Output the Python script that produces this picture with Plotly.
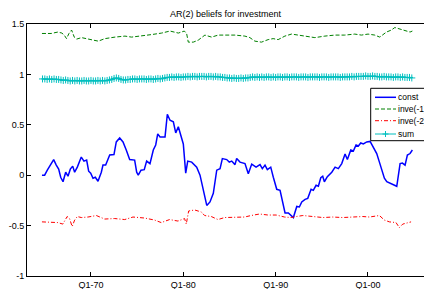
import plotly.graph_objects as go

# ---------------- data ----------------
const_dates = [1964.69, 1964.98, 1965.27, 1965.63, 1965.96, 1966.24, 1966.50, 1966.72, 1966.97, 1967.26,
               1967.51, 1967.76, 1968.02, 1968.23, 1968.52, 1968.95, 1969.24, 1969.53, 1969.75, 1969.97,
               1970.22, 1970.47, 1970.76, 1971.12, 1971.30, 1971.59, 1972.03, 1972.49, 1972.74, 1973.11,
               1973.47, 1973.82, 1974.19, 1974.73, 1974.95, 1975.12, 1975.42, 1975.77, 1976.03, 1976.39,
               1976.75, 1977.01, 1977.23, 1977.48, 1978.02, 1978.27, 1978.56, 1978.92, 1979.18, 1979.46,
               1979.83, 1980.00, 1980.26, 1980.48, 1980.91, 1981.45, 1981.81, 1982.17, 1982.54, 1982.89,
               1983.25, 1983.62, 1983.98, 1984.23, 1984.70, 1984.98, 1985.24, 1985.60, 1985.78, 1986.14,
               1986.68, 1987.04, 1987.41, 1987.88, 1988.31, 1988.56, 1988.85, 1989.10, 1989.47, 1989.75,
               1990.12, 1990.48, 1990.83, 1991.02, 1991.38, 1991.74, 1991.92, 1992.29, 1992.57, 1992.83,
               1993.19, 1993.48, 1993.84, 1994.08, 1994.38, 1994.63, 1994.89, 1995.10, 1995.28, 1995.60,
               1996.08, 1996.44, 1996.79, 1997.16, 1997.52, 1997.77, 1998.14, 1998.42, 1998.71, 1998.96,
               1999.22, 1999.50, 1999.87, 2000.23, 2000.59, 2000.95, 2001.24, 2001.50, 2001.78, 2002.04,
               2002.39, 2002.75, 2003.12, 2003.48, 2003.73, 2004.02, 2004.27, 2004.56, 2004.81]
const_values = [0.0, 0.0, 0.05, 0.10, 0.155, 0.10, 0.06, -0.02, -0.065, 0.03,
                -0.01, 0.06, 0.09, 0.03, 0.08, 0.18, 0.14, 0.15, 0.04, 0.02,
                -0.03, -0.02, -0.06, 0.03, 0.10, 0.10, 0.20, 0.205, 0.33, 0.37,
                0.33, 0.25, 0.155, 0.15, 0.03, 0.0, 0.05, 0.055, 0.14, 0.115,
                0.25, 0.30, 0.41, 0.38, 0.38, 0.605, 0.545, 0.53, 0.42, 0.48,
                0.35, 0.31, 0.02, 0.14, 0.13, 0.08, 0.0, -0.15, -0.30, -0.265,
                -0.18, 0.05, 0.065, 0.165, 0.155, 0.13, 0.14, 0.105, 0.165, 0.13,
                0.115, 0.015, 0.11, 0.08, 0.105, 0.065, 0.10, 0.055, 0.08, -0.02,
                -0.14, -0.15, -0.28, -0.375, -0.375, -0.40, -0.42, -0.31, -0.315, -0.265,
                -0.24, -0.23, -0.14, -0.15, -0.10, -0.11, -0.025, -0.01, -0.065, -0.015,
                0.03, 0.08, 0.065, 0.115, 0.21, 0.155, 0.25, 0.24, 0.30, 0.29,
                0.32, 0.31, 0.33, 0.335, 0.28, 0.215, 0.13, 0.05, -0.03, -0.065,
                -0.08, -0.09, -0.11, 0.115, 0.12, 0.10, 0.20, 0.215, 0.25]

inve1_dates = [1964.69, 1965.69, 1966.41, 1966.85, 1967.10, 1967.35, 1967.61, 1967.90, 1968.19, 1968.44,
               1968.98, 1969.70, 1970.25, 1970.79, 1971.51, 1972.60, 1973.68, 1974.40, 1975.48, 1976.56,
               1977.65, 1978.56, 1979.46, 1980.11, 1980.36, 1980.54, 1981.08, 1981.62, 1982.34, 1983.06,
               1983.78, 1984.50, 1985.59, 1986.67, 1987.21, 1987.75, 1988.47, 1989.19, 1989.73, 1990.27,
               1991.00, 1991.72, 1992.44, 1993.34, 1994.25, 1995.33, 1996.41, 1997.49, 1998.57, 1999.29,
               2000.01, 2000.74, 2001.28, 2002.00, 2002.54, 2002.91, 2003.45, 2003.99, 2004.56, 2004.81]
inve1_values = [1.406, 1.406, 1.42, 1.41, 1.39, 1.355, 1.405, 1.44, 1.37, 1.35,
                1.365, 1.355, 1.34, 1.33, 1.355, 1.37, 1.38, 1.37, 1.38, 1.395,
                1.41, 1.43, 1.41, 1.43, 1.405, 1.32, 1.32, 1.34, 1.39, 1.37,
                1.39, 1.39, 1.39, 1.38, 1.365, 1.33, 1.32, 1.345, 1.355, 1.345,
                1.38, 1.40, 1.39, 1.38, 1.365, 1.38, 1.39, 1.39, 1.40, 1.39,
                1.40, 1.39, 1.37, 1.42, 1.44, 1.465, 1.45, 1.44, 1.42, 1.43]

inve2_dates = [1964.69, 1965.69, 1966.41, 1966.95, 1967.42, 1967.68, 1967.96, 1968.23, 1968.52, 1968.95,
               1969.68, 1970.58, 1971.48, 1972.57, 1973.65, 1974.55, 1975.81, 1976.89, 1977.61, 1978.52,
               1979.42, 1980.14, 1980.32, 1980.58, 1981.23, 1981.95, 1982.31, 1983.03, 1983.75, 1984.47,
               1985.55, 1986.63, 1987.35, 1988.26, 1989.16, 1990.06, 1990.96, 1991.68, 1992.22, 1992.95,
               1994.03, 1995.11, 1996.19, 1997.27, 1998.35, 1999.44, 2000.16, 2001.24, 2001.78, 2002.32,
               2003.04, 2003.40, 2003.77, 2004.31, 2004.67]
inve2_values = [-0.463, -0.463, -0.47, -0.485, -0.41, -0.43, -0.51, -0.445, -0.41, -0.42,
                -0.415, -0.40, -0.435, -0.43, -0.44, -0.415, -0.425, -0.445, -0.47, -0.44,
                -0.455, -0.43, -0.485, -0.355, -0.345, -0.365, -0.40, -0.41, -0.44, -0.42,
                -0.42, -0.415, -0.40, -0.385, -0.395, -0.395, -0.415, -0.42, -0.41, -0.40,
                -0.41, -0.42, -0.415, -0.42, -0.415, -0.41, -0.415, -0.40, -0.445, -0.463,
                -0.47, -0.52, -0.485, -0.47, -0.463]

sum_start = 1964.75  # quarterly from 1964Q4
sum_values = [0.955, 0.955, 0.95, 0.955, 0.95, 0.955, 0.95, 0.95,
              0.945, 0.94, 0.945, 0.94, 0.935, 0.94, 0.935, 0.94, 0.935, 0.935, 0.94, 0.935,
              0.935, 0.94, 0.935, 0.935, 0.94, 0.935, 0.94, 0.935, 0.94, 0.945, 0.95, 0.96,
              0.965, 0.96, 0.95, 0.945,
              0.945, 0.95, 0.95, 0.955, 0.955, 0.95, 0.955, 0.955, 0.955, 0.95, 0.955, 0.955,
              0.95, 0.955, 0.96, 0.955,
              0.96, 0.965, 0.97, 0.97, 0.975, 0.97, 0.975, 0.975, 0.97, 0.975,
              0.975, 0.98, 0.975, 0.98, 0.98, 0.975, 0.98, 0.98, 0.98, 0.975, 0.98, 0.98,
              0.975, 0.98, 0.975, 0.975,
              0.97, 0.97, 0.965, 0.965, 0.96, 0.965, 0.96, 0.96, 0.965, 0.96, 0.965, 0.965,
              0.97, 0.975, 0.97, 0.975, 0.97, 0.975, 0.97, 0.975, 0.975, 0.97, 0.975, 0.97,
              0.975, 0.975, 0.97, 0.975, 0.975, 0.97, 0.975, 0.975, 0.975, 0.97, 0.975, 0.975,
              0.975, 0.97, 0.975, 0.975, 0.975, 0.975, 0.97, 0.975, 0.975, 0.975, 0.97, 0.975,
              0.975, 0.975, 0.975, 0.97, 0.975, 0.975, 0.975, 0.975, 0.98, 0.975, 0.98, 0.98,
              0.98, 0.98, 0.985, 0.98, 0.98, 0.985, 0.98, 0.98,
              0.975, 0.975, 0.98, 0.975, 0.975, 0.975, 0.97, 0.975, 0.975, 0.97, 0.975, 0.97,
              0.97, 0.97, 0.965]
sum_dates = [sum_start + 0.25 * i for i in range(len(sum_values))]

series_names = ["const", "inve(-1)", "inve(-2)", "sum"]
x_tick_vals = [1970, 1980, 1990, 2000]
x_tick_text = ["Q1-70", "Q1-80", "Q1-90", "Q1-00"]
y_tick_vals = [-1, -0.5, 0, 0.5, 1, 1.5]
y_tick_text = ["-1", "-0.5", "0", "0.5", "1", "1.5"]

# ---------------- styling ----------------
W, H = 424, 289
L, R, T, B = 27, 424, 24, 276
FONT = "Liberation Sans, Arial, sans-serif"
colors = ["#0000ff", "#008000", "#ff0000", "#00bfbf"]
dashes = ["solid", "4px,2px", "4px,2px,1px,2px", "solid"]
widths = [1.5, 1, 1, 1]

fig = go.Figure()
fig.add_trace(go.Scatter(x=const_dates, y=const_values, mode="lines", name=series_names[0],
                         line=dict(color=colors[0], width=widths[0])))
fig.add_trace(go.Scatter(x=inve1_dates, y=inve1_values, mode="lines", name=series_names[1],
                         line=dict(color=colors[1], width=widths[1], dash=dashes[1])))
fig.add_trace(go.Scatter(x=inve2_dates, y=inve2_values, mode="lines", name=series_names[2],
                         line=dict(color=colors[2], width=widths[2], dash=dashes[2])))
fig.add_trace(go.Scatter(x=sum_dates, y=sum_values, mode="lines+markers", name=series_names[3],
                         line=dict(color=colors[3], width=widths[3]),
                         marker=dict(symbol="cross-thin", size=5, line=dict(color=colors[3], width=1))))

x0_year = 1963.07
x1_year = 2006.07

def px(x):
    return (x - L) / (R - L)

def py(y):
    return (B - y) / (B - T)

# custom legend
shapes = [dict(type="rect", xref="paper", yref="paper", x0=px(370.7), x1=px(440), y0=py(140.7), y1=py(88.3),
               line=dict(color="black", width=1), fillcolor="white", layer="above")]
annots = []
rows = [97.3, 109.0, 120.7, 134.0]
for i, name in enumerate(series_names):
    yy = py(rows[i])
    shapes.append(dict(type="line", xref="paper", yref="paper", x0=px(375), x1=px(396), y0=yy, y1=yy,
                       line=dict(color=colors[i], width=widths[i], dash=dashes[i]), layer="above"))
    annots.append(dict(xref="paper", yref="paper", x=px(396.5), y=yy, text=name, showarrow=False,
                       xanchor="left", yanchor="middle", xshift=-1,
                       font=dict(size=8.5, color="black", family=FONT)))
# plus marker for sum sample
cx, cy = 385.5, rows[3]
shapes.append(dict(type="line", xref="paper", yref="paper", x0=px(cx - 3), x1=px(cx + 3), y0=py(cy), y1=py(cy),
                   line=dict(color=colors[3], width=1), layer="above"))
shapes.append(dict(type="line", xref="paper", yref="paper", x0=px(cx), x1=px(cx), y0=py(cy - 3), y1=py(cy + 3),
                   line=dict(color=colors[3], width=1), layer="above"))

fig.update_layout(
    width=W, height=H,
    margin=dict(l=L, r=W - R, t=T, b=H - B, autoexpand=False),
    paper_bgcolor="white", plot_bgcolor="white",
    showlegend=False,
    font=dict(family=FONT, size=9, color="black"),
    title=dict(text="AR(2) beliefs for investment", x=0.5, xref="paper", xanchor="center",
               y=1 - 13.5 / H, yref="container", yanchor="middle", font=dict(size=9, family=FONT)),
    shapes=shapes, annotations=annots,
)
fig.update_xaxes(range=[x0_year, x1_year], tickvals=x_tick_vals, ticktext=x_tick_text,
                 showgrid=False, zeroline=False, showline=True, linecolor="black", linewidth=1,
                 ticks="inside", ticklen=4, tickcolor="black", mirror="allticks",
                 tickfont=dict(size=9, family=FONT))
fig.update_yaxes(range=[-1, 1.5], tickvals=y_tick_vals, ticktext=y_tick_text,
                 showgrid=False, zeroline=False, showline=True, linecolor="black", linewidth=1,
                 ticks="inside", ticklen=4, tickcolor="black", mirror=False,
                 tickfont=dict(size=9, family=FONT))

fig.write_html("out.html", config={"displayModeBar": False},
               post_script="document.body.style.margin='0';document.body.style.padding='0';"
                           "document.body.style.overflow='hidden';")
